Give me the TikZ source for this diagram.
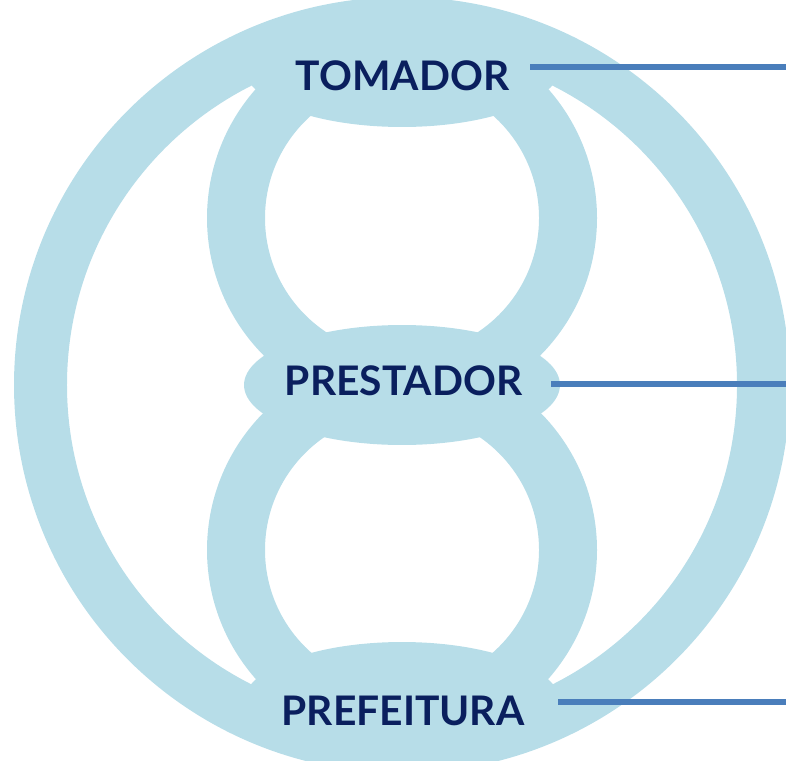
\documentclass[tikz,border=0pt]{standalone}
\usepackage{fontspec}
\setmainfont{Lato}
\usepackage{xcolor}
\usepackage{tikz}
\usetikzlibrary{shapes.geometric}
\definecolor{ringblue}{HTML}{B7DDE8}
\definecolor{navy}{HTML}{0A1F5E}
\definecolor{leadblue}{HTML}{4A7EBB}

\begin{document}
\begin{tikzpicture}[x=0.02cm, y=-0.02cm,
    ring/.style={draw=ringblue},
    blob/.style={ellipse, fill=ringblue, minimum width=6.32cm, minimum height=2.4cm, inner sep=0pt},
    lbl/.style={text=navy, font=\fontsize{23.2}{28}\selectfont\bfseries, inner sep=0pt},
    lead/.style={draw=leadblue, line width=0.11cm}]
    \useasboundingbox (0,0) rectangle (786,760);
    \clip (0,0) rectangle (786,760);

    % rings
    \draw[ring, line width=1.06cm] (402,385) circle[radius=361.5];
    \draw[ring, line width=1.16cm] (402,218) circle[radius=166];
    \draw[ring, line width=1.16cm] (402,550) circle[radius=166];

    % the three parties
    \node[blob] (etom) at (402,67) {};
    \node[blob] (epre) at (402,385) {};
    \node[blob] (epref) at (402,702) {};

    \node[lbl] (tom) at (402.5,76) {TOMADOR};
    \node[lbl] (pre) at (403.5,381) {PRESTADOR};
    \node[lbl] (pref) at (403,711) {PREFEITURA};

    % leads to the right
    \coordinate (tomA) at (530,67);
    \coordinate (tomB) at (786,67);
    \coordinate (preA) at (551,384);
    \coordinate (preB) at (786,384);
    \coordinate (prefA) at (558,702);
    \coordinate (prefB) at (786,702);
    \draw[lead] (tomA) -- (tomB);
    \draw[lead] (preA) -- (preB);
    \draw[lead] (prefA) -- (prefB);
\end{tikzpicture}
\end{document}
